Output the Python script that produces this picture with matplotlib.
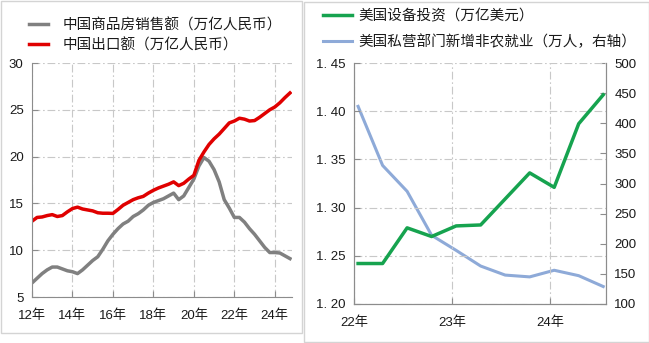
import numpy as np
import matplotlib
matplotlib.use("Agg")
import matplotlib.pyplot as plt
from matplotlib.patches import Rectangle
from matplotlib.ticker import FixedLocator, FuncFormatter

plt.rcParams['font.family'] = ['Liberation Sans', 'Noto Sans CJK SC', 'DejaVu Sans']

# ---- China: property sales vs exports (trillion RMB, quarterly samples) ----
china_x = [2012 + 0.25 * i for i in range(52)]
property_sales = [6.5, 7.0, 7.5, 7.9, 8.2, 8.2, 8.0, 7.8, 7.7, 7.5, 7.9, 8.4,
                  8.9, 9.3, 10.1, 11.0, 11.7, 12.3, 12.8, 13.1, 13.6, 13.9, 14.3, 14.8,
                  15.1, 15.3, 15.5, 15.8, 16.1, 15.4, 15.8, 16.7, 17.6, 19.0, 19.9, 19.5,
                  18.6, 17.3, 15.4, 14.5, 13.5, 13.5, 13.0, 12.3, 11.7, 11.0, 10.3, 9.75,
                  9.75, 9.7, 9.4, 9.1]
exports = [13.1, 13.5, 13.55, 13.7, 13.8, 13.6, 13.7, 14.1, 14.45, 14.6, 14.4, 14.3,
           14.2, 14.0, 13.95, 13.95, 13.93, 14.35, 14.8, 15.1, 15.4, 15.6, 15.75, 16.1,
           16.4, 16.65, 16.85, 17.05, 17.3, 16.9, 17.15, 17.6, 18.0, 19.6, 20.5, 21.3,
           21.9, 22.4, 23.0, 23.6, 23.8, 24.1, 24.0, 23.8, 23.85, 24.2, 24.6, 25.0,
           25.3, 25.75, 26.3, 26.8]
china_years = [2012, 2014, 2016, 2018, 2020, 2022, 2024]
china_yticks = [5, 10, 15, 20, 25, 30]

# ---- US: equipment investment vs private nonfarm payroll additions ----
us_quarters = [(2022, 1), (2022, 4), (2022, 7), (2022, 10), (2023, 1), (2023, 4),
               (2023, 7), (2023, 10), (2024, 1), (2024, 4), (2024, 7)]
equipment_inv = [1.242, 1.242, 1.279, 1.270, 1.281, 1.282, 1.309, 1.336, 1.321, 1.387, 1.417]
payrolls = [428, 330, 287, 214, 189, 163, 148, 145, 156, 147, 129]
us_years = [2022, 2023, 2024]
us_yticks = [1.20, 1.25, 1.30, 1.35, 1.40, 1.45]
us_y2ticks = [100, 150, 200, 250, 300, 350, 400, 450, 500]

us_x = [y + (m - 0.5) / 12 for y, m in us_quarters]

W, H = 649, 343
fig = plt.figure(figsize=(W / 100, H / 100), dpi=100)

grid_kw = dict(color='#c8c8c8', linewidth=0.8, linestyle=(0, (7, 2.5, 1.5, 2.5)))
tick_font = 9.5
legend_font = 10.5
spine_col = '#8c8c8c'


def ax_rect(x0, x1, ytop, ybot):
    return [x0 / W, 1 - ybot / H, (x1 - x0) / W, (ybot - ytop) / H]


# panel frames
fig.patches.append(Rectangle((0.5 / W, 1 - 333 / H), 301.5 / W, 332.5 / H,
                             transform=fig.transFigure, fill=False,
                             edgecolor='#d4d4d4', linewidth=1.0))
fig.patches.append(Rectangle((304 / W, 1 - 342 / H), 344.5 / W, 340 / H,
                             transform=fig.transFigure, fill=False,
                             edgecolor='#d4d4d4', linewidth=1.0))

# ---------------- left panel ----------------
ax1 = fig.add_axes(ax_rect(32, 292, 63, 297))
l_sales, = ax1.plot(china_x, property_sales, color='#808080', linewidth=2.5,
                    label='中国商品房销售额（万亿人民币）')
l_exp, = ax1.plot(china_x, exports, color='#e00000', linewidth=2.5,
                  label='中国出口额（万亿人民币）')
ax1.set_xlim(2012, 2024.85)
ax1.set_ylim(5, 30)
ax1.xaxis.set_major_locator(FixedLocator(china_years))
ax1.xaxis.set_major_formatter(FuncFormatter(lambda v, p: f"{int(v) % 100}年"))
ax1.yaxis.set_major_locator(FixedLocator(china_yticks))
ax1.grid(True, **grid_kw)
for s in ['top', 'right']:
    ax1.spines[s].set_visible(False)
for s in ['left', 'bottom']:
    ax1.spines[s].set_color(spine_col)
ax1.tick_params(direction='in', length=4, color=spine_col, labelsize=tick_font,
                labelcolor='#1a1a1a')
ax1.tick_params(axis='y', pad=6)
ax1.tick_params(axis='x', pad=9)
ax1.set_axisbelow(True)

fs_px = legend_font * 100 / 72
leg1 = fig.legend(handles=[l_sales, l_exp], loc='upper left',
                  bbox_to_anchor=(29 / W, 1 - 18 / H), frameon=False,
                  prop={'family': ['Noto Sans CJK SC'], 'size': legend_font},
                  handlelength=19 / fs_px, handletextpad=15 / fs_px, labelspacing=0.42,
                  borderaxespad=0, borderpad=0)
for t in leg1.get_texts():
    t.set_color('#1a1a1a')

# ---------------- right panel ----------------
ax2 = fig.add_axes(ax_rect(354, 606, 63, 304))
l_inv, = ax2.plot(us_x, equipment_inv, color='#16a34f', linewidth=2.5,
                  label='美国设备投资（万亿美元）')
ax2.set_xlim(2022, 2024.57)
ax2.set_ylim(1.20, 1.45)
ax2.xaxis.set_major_locator(FixedLocator(us_years))
ax2.xaxis.set_major_formatter(FuncFormatter(lambda v, p: f"{int(v) % 100}年"))
ax2.yaxis.set_major_locator(FixedLocator(us_yticks))
ax2.yaxis.set_major_formatter(FuncFormatter(lambda v, p: f"{v:.2f}".replace('.', '. ')))
ax2.grid(True, **grid_kw)
ax2.spines['top'].set_visible(False)
for s in ['left', 'bottom', 'right']:
    ax2.spines[s].set_color(spine_col)
ax2.tick_params(direction='in', length=4, color=spine_col, labelsize=tick_font,
                labelcolor='#1a1a1a')
ax2.tick_params(axis='y', pad=6)
ax2.tick_params(axis='x', pad=9)
ax2.set_axisbelow(True)

ax3 = ax2.twinx()
l_pay, = ax3.plot(us_x, payrolls, color='#8eaad8', linewidth=2.2,
                  label='美国私营部门新增非农就业（万人，右轴）')
ax3.set_ylim(100, 500)
ax3.yaxis.set_major_locator(FixedLocator(us_y2ticks))
ax3.spines['top'].set_visible(False)
for s in ['left', 'bottom', 'right']:
    ax3.spines[s].set_color(spine_col)
ax3.tick_params(direction='in', length=4, color=spine_col, labelsize=tick_font,
                labelcolor='#1a1a1a', pad=6)
ax2.set_zorder(ax3.get_zorder() + 1)
ax2.patch.set_visible(False)

leg2 = fig.legend(handles=[l_inv, l_pay], loc='upper left',
                  bbox_to_anchor=(323 / W, 1 - 9 / H), frameon=False,
                  prop={'family': ['Noto Sans CJK SC'], 'size': legend_font},
                  handlelength=29 / fs_px, handletextpad=6 / fs_px, labelspacing=0.75,
                  borderaxespad=0, borderpad=0)
for t in leg2.get_texts():
    t.set_color('#1a1a1a')

fig.savefig('out.png', dpi=100)
